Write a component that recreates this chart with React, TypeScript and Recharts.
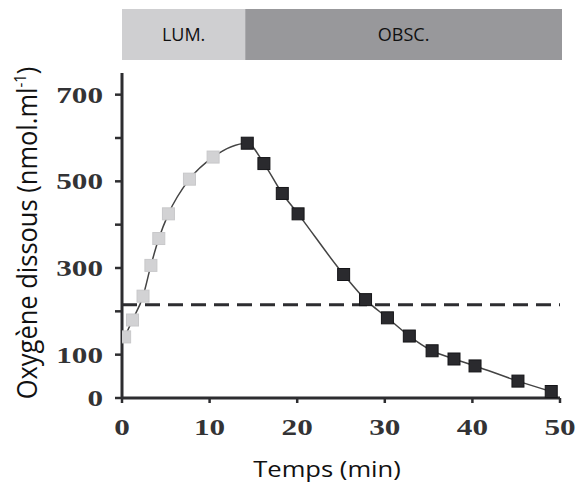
import React from 'react';
import {
  ComposedChart,
  BarChart,
  Bar,
  Line,
  Scatter,
  XAxis,
  YAxis,
  ReferenceLine,
  LabelList,
  Label,
} from 'recharts';

// light phase (LUM.) measurements
const LIGHT_T = [0.3, 1.2, 2.4, 3.3, 4.2, 5.3, 7.7, 10.4];
const LIGHT_Y = [141, 180, 235, 306, 368, 425, 505, 556];

// dark phase (OBSC.) measurements
const DARK_T = [14.3, 16.2, 18.3, 20.1, 25.3, 27.8, 30.3, 32.8, 35.4, 37.9, 40.3, 45.2, 49.0];
const DARK_Y = [588, 541, 472, 425, 285, 227, 185, 143, 109, 90, 74, 39, 15];

const X_TICKS = [0, 10, 20, 30, 40, 50];
const Y_TICKS = [0, 100, 200, 300, 400, 500, 600, 700];
const Y_LABELED = [0, 100, 300, 500, 700];
const THRESHOLD = 215;

const PHASES = ['LUM.', 'OBSC.'];
const PHASE_MIN = [14, 36];

const AXIS = '#2d2d30';
const TICK_TEXT = '#333335';
const SERIF = '"Liberation Serif", "Times New Roman", serif';
const SANS = '"Open Sans", "Noto Sans", sans-serif';

const lightPts = LIGHT_T.map((t, i) => ({ t, y: LIGHT_Y[i] }));
const darkPts = DARK_T.map((t, i) => ({ t, y: DARK_Y[i] }));
const curve = [...lightPts, ...darkPts];
const phaseRow = [{ name: '', p0: PHASE_MIN[0], p1: PHASE_MIN[1] }];

const square = (fill: string, stroke: string) => (props: any) => {
  const { cx, cy } = props;
  if (cx == null || cy == null) return <g />;
  return <rect x={cx - 6} y={cy - 6} width={12} height={12} fill={fill} stroke={stroke} strokeWidth={1} />;
};

const XTick = (props: any) => {
  const { x, y, payload } = props;
  return (
    <text
      transform={`translate(${x},${y + 32}) scale(1.3,1)`}
      textAnchor="middle"
      fontFamily={SERIF}
      fontWeight="bold"
      fontSize={24}
      fill={TICK_TEXT}
    >
      {payload.value}
    </text>
  );
};

const YTick = (props: any) => {
  const { x, y, payload } = props;
  if (!Y_LABELED.includes(payload.value)) return <g />;
  return (
    <text
      transform={`translate(${x},${y + 8}) scale(1.3,1)`}
      textAnchor="end"
      fontFamily={SERIF}
      fontWeight="bold"
      fontSize={24}
      fill={TICK_TEXT}
    >
      {payload.value}
    </text>
  );
};

export default function App() {
  return (
    <div style={{ position: 'absolute', left: 0, top: 0, width: 578, height: 488, background: '#fff' }}>
      <div style={{ position: 'absolute', left: 0, top: 0 }}>
        <ComposedChart width={578} height={488} margin={{ top: 73, right: 18, bottom: 60, left: 62 }}>
          <XAxis
            type="number"
            dataKey="t"
            domain={[0, 50]}
            ticks={X_TICKS}
            height={30}
            tickSize={5}
            tickMargin={0}
            tick={<XTick />}
            axisLine={{ stroke: AXIS, strokeWidth: 3 }}
            tickLine={{ stroke: AXIS, strokeWidth: 2.5 }}
            allowDataOverflow
          >
            <Label
              content={() => (
                <text
                  transform="translate(327,477) scale(1.22,1)"
                  textAnchor="middle"
                  fontFamily={SANS}
                  fontSize={21}
                  fill="#111"
                >
                  Temps (min)
                </text>
              )}
            />
          </XAxis>
          <YAxis
            type="number"
            dataKey="y"
            domain={[0, 750]}
            ticks={Y_TICKS}
            width={60}
            tickSize={7}
            tickMargin={12}
            tick={<YTick />}
            axisLine={{ stroke: AXIS, strokeWidth: 3 }}
            tickLine={{ stroke: AXIS, strokeWidth: 2.5 }}
            allowDataOverflow
          >
            <Label
              content={() => (
                <text
                  transform="translate(37,233) rotate(-90) scale(1,1.08)"
                  textAnchor="middle"
                  fontFamily={SANS}
                  fontSize={25.5}
                  fill="#111"
                >
                  Oxygène dissous (nmol.ml
                  <tspan fontSize={15} dy={-10}>-1</tspan>
                  <tspan dy={10}>)</tspan>
                </text>
              )}
            />
          </YAxis>
          <ReferenceLine y={THRESHOLD} stroke={AXIS} strokeWidth={3} strokeDasharray="15 8" />
          <Line
            data={curve}
            dataKey="y"
            type="monotone"
            stroke="#444"
            strokeWidth={1.5}
            dot={false}
            activeDot={false}
            isAnimationActive={false}
          />
          <Scatter data={lightPts} dataKey="y" shape={square('#d2d2d4', '#c8c8ca')} isAnimationActive={false} />
          <Scatter data={darkPts} dataKey="y" shape={square('#2a2a2e', '#151518')} isAnimationActive={false} />
        </ComposedChart>
      </div>
      <div style={{ position: 'absolute', left: 0, top: 0 }}>
        <BarChart
          width={578}
          height={69}
          data={phaseRow}
          layout="vertical"
          barCategoryGap={0}
          margin={{ top: 9, right: 16, bottom: 9, left: 122 }}
        >
          <XAxis type="number" domain={[0, 50]} hide />
          <YAxis type="category" dataKey="name" hide />
          <Bar dataKey="p0" stackId="a" fill="#cfcfd1" isAnimationActive={false}>
            <LabelList dataKey="p0" position="center" formatter={() => PHASES[0]} fill="#111" fontSize={18} fontFamily={SANS} />
          </Bar>
          <Bar dataKey="p1" stackId="a" fill="#98989b" isAnimationActive={false}>
            <LabelList dataKey="p1" position="center" formatter={() => PHASES[1]} fill="#111" fontSize={18} fontFamily={SANS} />
          </Bar>
        </BarChart>
      </div>
    </div>
  );
}
